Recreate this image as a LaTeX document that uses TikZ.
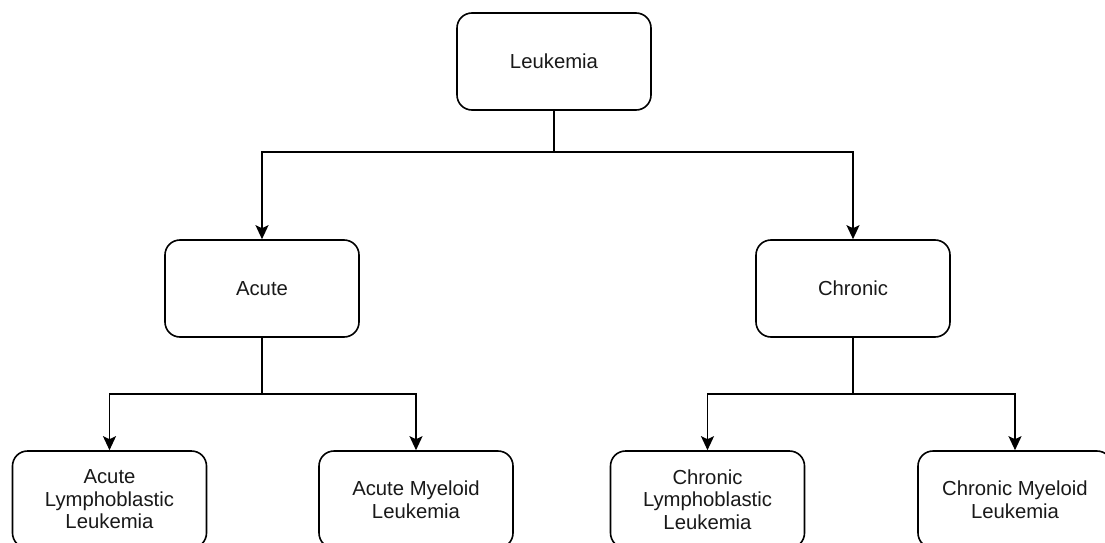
\documentclass[tikz,border=0pt]{standalone}
\usepackage{fontspec}
\setmainfont{Liberation Sans}
\usetikzlibrary{arrows.meta}
\definecolor{txt}{RGB}{25,25,25}
\begin{document}
\begin{tikzpicture}[x=1pt,y=-1pt,
  box/.style={draw=black, line width=1.6pt, rounded corners=15pt, fill=white,
    minimum width=194pt, minimum height=97pt, align=center, text=txt,
    font=\fontsize{20.3pt}{22.5pt}\selectfont, inner sep=0pt},
  conn/.style={draw=black, line width=1.6pt},
  arr/.style={conn, -{Stealth[length=14pt,width=13pt,inset=3pt]}}]
\useasboundingbox (0,0) rectangle (1105,543);
\clip (0,0) rectangle (1105,543);
\fill[white] (0,0) rectangle (1105,543);
\node[box] (leuk) at (554,61.5) {Leukemia};
\node[box] (acute) at (262,288.5) {Acute};
\node[box] (chron) at (853,288.5) {Chronic};
\node[box] (all) at (109.5,499.5) {Acute\\Lymphoblastic\\Leukemia};
\node[box] (aml) at (416,499.5) {Acute Myeloid\\Leukemia};
\node[box] (cll) at (707.5,499.5) {Chronic\\Lymphoblastic\\Leukemia};
\node[box] (cml) at (1015,499.5) {Chronic Myeloid\\Leukemia};
\coordinate (b1) at (554,152);
\coordinate (b2) at (262,394);
\coordinate (b3) at (853,394);
\draw[conn] (leuk.south) -- (b1);
\draw[arr] (b1) -| (acute.north);
\draw[arr] (b1) -| (chron.north);
\draw[conn] (acute.south) -- (b2);
\draw[arr] (b2) -| (all.north);
\draw[arr] (b2) -| (aml.north);
\draw[conn] (chron.south) -- (b3);
\draw[arr] (b3) -| (cll.north);
\draw[arr] (b3) -| (cml.north);
\end{tikzpicture}
\end{document}
